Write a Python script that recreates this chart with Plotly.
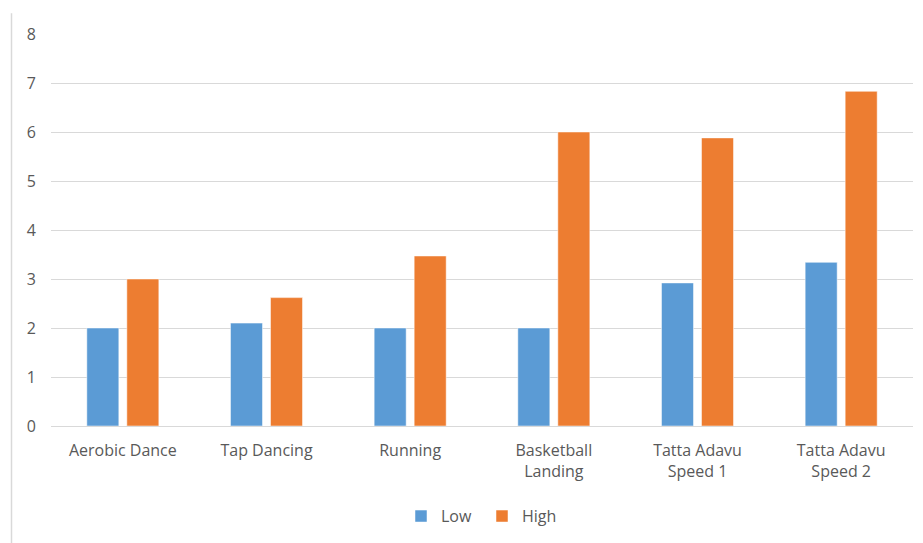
import plotly.graph_objects as go

categories = ["Aerobic Dance", "Tap Dancing", "Running", "Basketball<br>Landing",
              "Tatta Adavu<br>Speed 1", "Tatta Adavu<br>Speed 2"]
low_values = [2.0, 2.1, 2.0, 2.0, 2.92, 3.34]
high_values = [3.0, 2.62, 3.47, 6.0, 5.88, 6.83]
y_ticks = [0, 1, 2, 3, 4, 5, 6, 7, 8]

W, H = 923, 543
ml, mr, mt, mb = 51, 10, 34, 113
pw = W - ml - mr
ph = H - mt - mb

fig = go.Figure()
fig.add_trace(go.Bar(name="Low", x=categories, y=low_values,
                     marker=dict(color="#5b9bd5", line=dict(color="#ffffff", width=0.5))))
fig.add_trace(go.Bar(name="High", x=categories, y=high_values,
                     marker=dict(color="#ed7d31", line=dict(color="#ffffff", width=0.5))))

font = "'Open Sans', Lato, sans-serif"
fs = 16
fig.update_layout(
    width=W, height=H,
    margin=dict(l=ml, r=mr, t=mt, b=mb),
    paper_bgcolor="white", plot_bgcolor="white",
    barmode="group", bargap=0.443, bargroupgap=0.2,
    font=dict(family=font, size=fs, color="#595959"),
    xaxis=dict(showgrid=False, showline=False, ticks="", tickfont=dict(size=fs, color="#595959"),
               ticklabelstandoff=13, fixedrange=True, automargin=False),
    yaxis=dict(range=[0, 8], tickvals=y_ticks, showgrid=True, gridcolor="#d9d9d9", gridwidth=1,
               zeroline=True, zerolinecolor="#d9d9d9", zerolinewidth=1, showline=False,
               ticks="", ticklabelstandoff=14, tickfont=dict(size=fs, color="#595959"),
               automargin=False),
    legend=dict(orientation="h", x=0.5, xanchor="center", y=-0.23, yanchor="middle",
                font=dict(size=fs, color="#595959"), itemwidth=30, traceorder="normal",
                entrywidth=36, entrywidthmode="pixels"),
    showlegend=True,
)
fig.add_shape(type="line", xref="paper", yref="paper",
              x0=(11.5 - ml) / pw, x1=(11.5 - ml) / pw,
              y0=(H - mb - 13) / ph, y1=(H - mb - 560) / ph,
              line=dict(color="#d9d9d9", width=1.5))
fig.write_html("out.html")
